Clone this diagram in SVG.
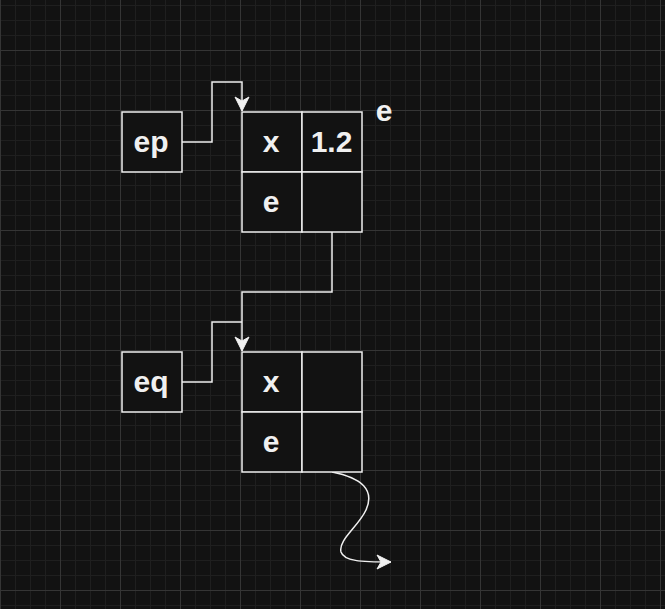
<svg xmlns="http://www.w3.org/2000/svg" width="665" height="609" viewBox="0 0 665 609">
  <defs>
    <pattern id="grid" x="0" y="-10" width="60" height="60" patternUnits="userSpaceOnUse">
      <rect x="15" y="0" width="1" height="60" fill="#1f1f1f"/>
      <rect x="30" y="0" width="1" height="60" fill="#1f1f1f"/>
      <rect x="45" y="0" width="1" height="60" fill="#1f1f1f"/>
      <rect x="0" y="15" width="60" height="1" fill="#1f1f1f"/>
      <rect x="0" y="30" width="60" height="1" fill="#1f1f1f"/>
      <rect x="0" y="45" width="60" height="1" fill="#1f1f1f"/>
      <rect x="0" y="0" width="1" height="60" fill="#353535"/>
      <rect x="0" y="0" width="60" height="1" fill="#353535"/>
    </pattern>
    <marker id="arrow" markerUnits="userSpaceOnUse" markerWidth="20" markerHeight="20" viewBox="-16 -10 20 20" refX="0" refY="0" orient="auto">
      <path d="M0,0 L-14,-7 L-10,0 L-14,7 Z" fill="#f0f0f0" stroke="#f0f0f0" stroke-width="1"/>
    </marker>
  </defs>
  <style>
    .cell { fill: #121212; stroke: #f0f0f0; stroke-width: 1.5; }
    .lbl { font-family: "Liberation Sans", Arial, Helvetica, sans-serif; font-size: 30px; font-weight: bold; fill: #f0f0f0; text-anchor: middle; }
    .edge { fill: none; stroke: #f0f0f0; stroke-width: 1.5; }
  </style>
  <rect width="665" height="609" fill="#121212"/>
  <rect width="665" height="609" fill="url(#grid)"/>

  <g id="connectors">
    <path class="edge" d="M182,142 H212 V82 H242 V111" marker-end="url(#arrow)"/>
    <path class="edge" d="M332,232 V292 H242 V351" marker-end="url(#arrow)"/>
    <path class="edge" d="M182,382 H212 V322 H242"/>
    <path class="edge" d="M332,472 C362,478 375,490 366,510 C358,527 338,540 341,552 C344,561 360,562 391,562" marker-end="url(#arrow)"/>
  </g>

  <g id="ep">
    <rect class="cell" x="122" y="112" width="60" height="60"/>
    <text class="lbl" x="151" y="152">ep</text>
  </g>

  <g id="node1">
    <rect class="cell" x="242" y="112" width="60" height="60"/>
    <rect class="cell" x="302" y="112" width="60" height="60"/>
    <rect class="cell" x="242" y="172" width="60" height="60"/>
    <rect class="cell" x="302" y="172" width="60" height="60"/>
    <text class="lbl" x="271" y="152">x</text>
    <text class="lbl" x="331.5" y="152">1.2</text>
    <text class="lbl" x="271" y="212">e</text>
  </g>

  <g id="label-e">
    <text class="lbl" x="384" y="121">e</text>
  </g>

  <g id="eq">
    <rect class="cell" x="122" y="352" width="60" height="60"/>
    <text class="lbl" x="151" y="392">eq</text>
  </g>

  <g id="node2">
    <rect class="cell" x="242" y="352" width="60" height="60"/>
    <rect class="cell" x="302" y="352" width="60" height="60"/>
    <rect class="cell" x="242" y="412" width="60" height="60"/>
    <rect class="cell" x="302" y="412" width="60" height="60"/>
    <text class="lbl" x="271" y="392">x</text>
    <text class="lbl" x="271" y="452">e</text>
  </g>
</svg>
